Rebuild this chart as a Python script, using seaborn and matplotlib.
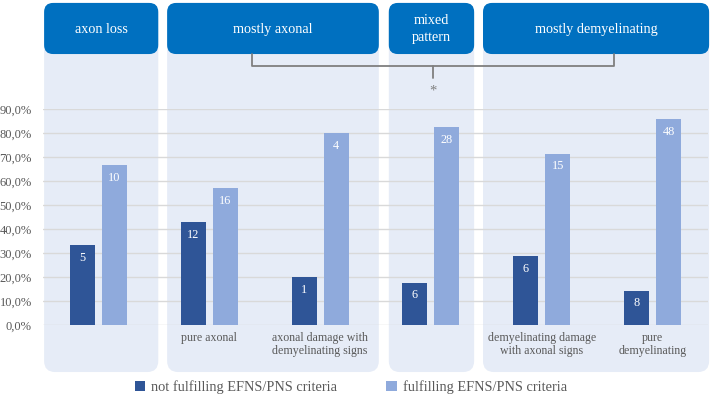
import numpy as np
import pandas as pd
import matplotlib
matplotlib.use("Agg")
import matplotlib.pyplot as plt
import seaborn as sns
from matplotlib.patches import FancyBboxPatch

# data
subtypes = ["axon loss", "pure axonal", "axonal damage with demyelinating signs",
            "mixed pattern", "demyelinating damage with axonal signs", "pure demyelinating"]
subtype_labels = ["", "pure axonal", "axonal damage with\ndemyelinating signs", "",
                  "demyelinating damage\nwith axonal signs", "pure\ndemyelinating"]
not_fulfilling = [5, 12, 1, 6, 6, 8]
fulfilling = [10, 16, 4, 28, 15, 48]
series_names = ["not fulfilling EFNS/PNS criteria", "fulfilling EFNS/PNS criteria"]
group_names = ["axon loss", "mostly axonal", "mixed\npattern", "mostly demyelinating"]

# layout (data units on the category axis)
panel_spans = [(-0.49, 0.54), (0.62, 2.53), (2.62, 3.39), (3.47, 5.51)]
DARK = "#2F5597"
LIGHT = "#8FAADC"
PANEL = "#E6ECF7"
HEADER = "#0070C0"
GREY_TXT = "#595959"
SERIF = ["Liberation Serif", "DejaVu Serif"]

rows = []
for s, a, b in zip(subtypes, not_fulfilling, fulfilling):
    tot = a + b
    rows.append((s, series_names[0], a, a / tot * 100))
    rows.append((s, series_names[1], b, b / tot * 100))
df = pd.DataFrame(rows, columns=["subtype", "criteria", "n", "pct"])

sns.set_style("white")
plt.rcParams["font.family"] = SERIF

W, H = 712, 397
fig = plt.figure(figsize=(W / 100, H / 100), dpi=100)
ax = fig.add_axes([43 / W, (H - 325) / H, 665 / W, 216 / H])

sns.barplot(data=df, x="subtype", y="pct", hue="criteria", order=subtypes,
            hue_order=series_names, palette=[DARK, LIGHT], saturation=1,
            width=0.578, gap=0.22, linewidth=0, ax=ax, zorder=3)
ax.set_xlim(-0.5, 5.5)
ax.set_ylim(0, 90)

# px per data unit, for round corners
px_x = 665 / 6.0
px_y = 216 / 90.0
asp = px_x / px_y

def rbox(x0, x1, y0, y1, color, r_px, z):
    p = FancyBboxPatch((x0, y0), x1 - x0, y1 - y0,
                       boxstyle=f"round,pad=0,rounding_size={r_px / px_x}",
                       mutation_aspect=asp, fc=color, ec="none",
                       clip_on=False, zorder=z, transform=ax.transData)
    ax.add_patch(p)

for (x0, x1), name in zip(panel_spans, group_names):
    rbox(x0, x1, -19.6, 134.2, PANEL, 11, 0.1)
    rbox(x0, x1, 112.9, 134.2, HEADER, 9, 0.2)
    ax.text((x0 + x1) / 2, 123.2, name, ha="center", va="center", color="white",
            fontsize=10.2, linespacing=1.4, zorder=4, clip_on=False)

# significance bracket
bx = [1.39, 1.39, 4.65, 4.65]
by = [112.9, 107.9, 107.9, 112.9]
ax.plot(bx, by, color="#7F7F7F", lw=1.3, clip_on=False, zorder=4)
ax.plot([3.02, 3.02], [107.9, 102.9], color="#7F7F7F", lw=1.3, clip_on=False, zorder=4)
ax.text(3.02, 97.5, "*", ha="center", va="center", color="#7F7F7F", fontsize=10.5, clip_on=False)

# grid
ax.set_yticks(np.arange(0, 91, 10))
ax.set_yticklabels([f"{v:.1f}%".replace(".", ",") for v in np.arange(0, 91, 10)])
ax.yaxis.grid(True, color="#D9D9D9", lw=1)
ax.set_axisbelow(True)
for sp in ax.spines.values():
    sp.set_visible(False)

ax.set_xticks(range(len(subtypes)))
ax.set_xticklabels(subtype_labels, linespacing=1.15)
ax.tick_params(axis="x", length=0, pad=5, labelsize=8.6, labelcolor=GREY_TXT)
ax.tick_params(axis="y", length=0, pad=8, labelsize=9, labelcolor=GREY_TXT)
ax.set_xlabel("")
ax.set_ylabel("")

# counts on bars
for cont, counts in zip(ax.containers, [not_fulfilling, fulfilling]):
    ax.bar_label(cont, labels=[str(c) for c in counts], padding=-13.5,
                 color="white", fontsize=8.8, zorder=5)

handles, labels = ax.get_legend_handles_labels()
ax.legend(handles, labels, loc="center", bbox_to_anchor=(351 / W, 1 - 387 / H),
          bbox_transform=fig.transFigure, ncol=2, frameon=False,
          handlelength=0.72, handleheight=0.72, handletextpad=0.42,
          columnspacing=3.4, fontsize=10.4, labelcolor=GREY_TXT)

fig.savefig("out.png", dpi=100)
